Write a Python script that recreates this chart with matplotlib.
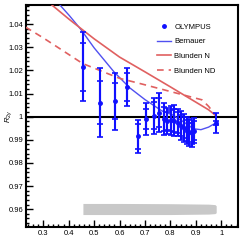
import matplotlib
matplotlib.use("Agg")
import matplotlib.pyplot as plt
from matplotlib.lines import Line2D
from matplotlib.ticker import MultipleLocator, FuncFormatter

# OLYMPUS data
eps = [0.456, 0.525, 0.582, 0.631, 0.674, 0.705, 0.734, 0.757, 0.773, 0.788,
       0.803, 0.816, 0.829, 0.841, 0.853, 0.864, 0.874, 0.884, 0.893, 0.978]
r2g = [1.0216, 1.0061, 1.0067, 1.0129, 0.9915, 0.9990, 1.0004, 1.0017, 0.9990, 0.9982,
       0.9985, 0.9983, 0.9975, 0.9962, 0.9952, 0.9940, 0.9932, 0.9928, 0.9940, 0.9973]
err_tot = [0.0149, 0.0148, 0.0123, 0.0082, 0.0073, 0.0071, 0.0077, 0.0084, 0.0068, 0.0055,
           0.0062, 0.0068, 0.0060, 0.0062, 0.0060, 0.0060, 0.0058, 0.0060, 0.0055, 0.0043]
err_in = [0.0104, 0.0094, 0.0077, 0.0060, 0.0053, 0.0043, 0.0058, 0.0062, 0.0050, 0.0040,
          0.0045, 0.0050, 0.0045, 0.0045, 0.0045, 0.0045, 0.0043, 0.0045, 0.0040, 0.0010]

# Bernauer curve
bern_x = [0.364, 0.403, 0.449, 0.50, 0.579, 0.64, 0.70, 0.767, 0.806, 0.85, 0.89, 0.92, 0.95, 0.978]
bern_y = [1.0485, 1.0437, 1.0376, 1.0298, 1.0193, 1.0125, 1.0074, 1.0025, 1.0009, 0.9979,
          0.9948, 0.9944, 0.9955, 0.9973]

# Blunden N curve
bn_x = [0.332, 0.40, 0.423, 0.50, 0.60, 0.70, 0.80, 0.90, 0.95, 0.975]
bn_y = [1.0485, 1.0423, 1.0403, 1.0337, 1.0258, 1.0194, 1.0129, 1.0063, 1.0030, 1.0008]

# Blunden ND curve
bnd_x = [0.23, 0.30, 0.455, 0.60, 0.70, 0.80, 0.924, 0.95, 0.975]
bnd_y = [1.0388, 1.0341, 1.0230, 1.0166, 1.0138, 1.0109, 1.0073, 1.0045, 1.0010]

# correlated systematic band
band_x = [0.456, 0.60, 0.80, 0.95, 0.975, 0.98]
band_hi = [0.9625, 0.9625, 0.9624, 0.9622, 0.9620, 0.9615]
band_lo = [0.9577, 0.9577, 0.9577, 0.9579, 0.9581, 0.9585]

plt.rcParams['font.family'] = ['Liberation Sans', 'DejaVu Sans']
plt.rcParams['mathtext.fontset'] = 'custom'
plt.rcParams['mathtext.rm'] = 'Liberation Sans'
plt.rcParams['mathtext.it'] = 'Liberation Sans:italic'

fig = plt.figure(figsize=(2.4, 2.4), dpi=100)
ax = fig.add_axes([0.108, 0.054, 0.884, 0.927])

blue = '#1010ff'
ax.fill_between(band_x, band_lo, band_hi, color='#c8c8c8', lw=0, zorder=1)
ax.axhline(1.0, color='black', lw=1.5, zorder=2)

l_bern, = ax.plot(bern_x, bern_y, color='#5050f0', lw=1.0, zorder=3)
l_bn, = ax.plot(bn_x, bn_y, color='#e06060', lw=1.2, zorder=3)
l_bnd, = ax.plot(bnd_x, bnd_y, color='#e06060', lw=1.2, ls=(0, (4, 3)), zorder=3)

ax.errorbar(eps, r2g, yerr=err_tot, fmt='none', ecolor=blue, elinewidth=1.5,
            capsize=2.2, capthick=1.2, zorder=4)
ax.errorbar(eps, r2g, yerr=err_in, fmt='o', color=blue, ms=2.5, ecolor=blue,
            elinewidth=1.5, capsize=2.2, capthick=1.2, zorder=5)

ax.set_xlim(0.232, 1.066)
ax.set_ylim(0.9523, 1.0485)

ax.xaxis.set_major_locator(MultipleLocator(0.1))
ax.xaxis.set_minor_locator(MultipleLocator(0.02))
ax.yaxis.set_major_locator(MultipleLocator(0.01))
ax.yaxis.set_minor_locator(MultipleLocator(0.002))
fmt = FuncFormatter(lambda v, p: ('%.2f' % v).rstrip('0').rstrip('.') if abs(v - round(v)) > 1e-9 else '%d' % round(v))
ax.yaxis.set_major_formatter(fmt)
ax.xaxis.set_major_formatter(FuncFormatter(lambda v, p: '%g' % round(v, 2)))
ax.tick_params(which='both', direction='in', top=False, right=False, labelsize=5.5, width=1.0, pad=2)
ax.tick_params(which='major', length=5)
ax.tick_params(which='minor', length=2.5)
for s in ax.spines.values():
    s.set_linewidth(1.5)

ax.set_ylabel(r'$R_{2\gamma}$', fontsize=5.5)
ax.yaxis.set_label_coords(-0.055, 0.5)

h_oly = Line2D([], [], ls='none', marker='o', color=blue, ms=2.5)
ax.legend([h_oly, l_bern, l_bn, l_bnd], ['OLYMPUS', 'Bernauer', 'Blunden N', 'Blunden ND'],
          loc='upper left', bbox_to_anchor=(0.62, 0.915), frameon=False, fontsize=5.5,
          labelspacing=0.95, handlelength=1.8, handletextpad=0.4, borderpad=0, borderaxespad=0)

fig.savefig('out.png', dpi=100)
